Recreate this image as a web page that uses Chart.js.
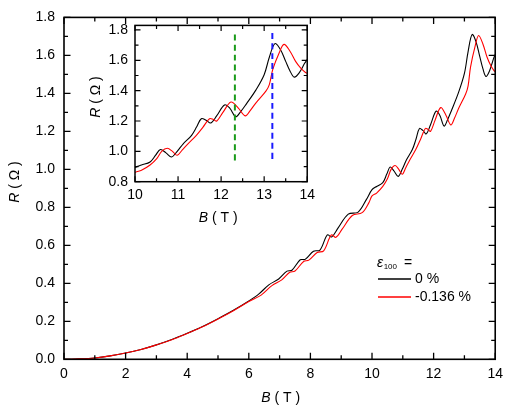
<!DOCTYPE html>
<html><head><meta charset="utf-8">
<script src="https://cdn.jsdelivr.net/npm/chart.js@4.4.1/dist/chart.umd.min.js"></script>
<style>
html,body{margin:0;padding:0;background:#fff;}
#wrap{position:relative;width:509px;height:409px;overflow:hidden;}
#main{position:absolute;left:0;top:0;}
#inset{position:absolute;left:80px;top:10px;}
</style></head><body>
<div id="wrap"><canvas id="main" width="509" height="409"></canvas><canvas id="inset" width="240" height="220"></canvas></div>
<script>
const FONT = '"Liberation Sans", Arial, Helvetica, sans-serif';
const seriesLabels = ['0 %', '-0.136 %'];
const legendTitle = 'ε';
const legendSub = '100';

// Black curve (eps = 0 %)
const B0 = [0,0.5,1,1.5,2,2.5,3,3.5,4,4.5,5,5.5,6,6.32,6.65,6.97,7.24,7.4,7.67,7.83,8.1,8.31,8.55,8.69,8.9,9.23,9.55,9.82,10,10.15,10.35,10.48,10.59,10.72,10.85,10.98,11.12,11.31,11.43,11.54,11.65,11.76,11.9,12.08,12.2,12.34,12.45,12.58,12.81,13,13.12,13.25,13.38,13.5,13.6,13.7,13.82,13.94,14];
const R0 = [0,0.002,0.007,0.018,0.033,0.052,0.076,0.104,0.137,0.173,0.214,0.258,0.307,0.343,0.392,0.423,0.464,0.469,0.524,0.526,0.569,0.575,0.655,0.644,0.692,0.764,0.775,0.842,0.893,0.91,0.93,0.975,1.012,0.99,0.963,1.0,1.05,1.104,1.16,1.215,1.205,1.187,1.235,1.306,1.285,1.228,1.26,1.31,1.405,1.505,1.62,1.71,1.67,1.593,1.53,1.489,1.52,1.58,1.605];
// Red curve (eps = -0.136 %)
const B1 = [0,0.5,1,1.5,2,2.5,3,3.5,4,4.5,5,5.5,6,6.4,6.75,7.07,7.33,7.5,7.78,7.95,8.22,8.43,8.68,8.83,9.03,9.36,9.68,9.9,10,10.15,10.35,10.5,10.62,10.75,10.87,10.98,11.1,11.23,11.42,11.58,11.73,11.82,11.9,12.05,12.23,12.4,12.56,12.68,12.81,13.04,13.12,13.2,13.35,13.46,13.6,13.73,13.86,13.96,14];
const R1 = [0,0.002,0.007,0.018,0.033,0.052,0.076,0.103,0.136,0.171,0.212,0.256,0.304,0.338,0.388,0.418,0.458,0.465,0.515,0.522,0.562,0.571,0.655,0.642,0.685,0.757,0.772,0.825,0.86,0.875,0.91,0.95,1.0,1.02,1.0,0.974,1.01,1.05,1.104,1.16,1.215,1.21,1.2,1.26,1.325,1.285,1.234,1.27,1.32,1.397,1.44,1.54,1.65,1.705,1.66,1.593,1.545,1.52,1.515];

// Dashed markers in the inset
const greenB = [12.32, 12.32];
const greenR = [0.94, 1.77];
const blueB = [13.19, 13.19];
const blueR = [0.95, 1.78];

// Tick labels
const mainXTicks = [0,2,4,6,8,10,12,14];
const mainYTicks = [0,0.2,0.4,0.6,0.8,1.0,1.2,1.4,1.6,1.8];
const insetXTicks = [10,11,12,13,14];
const insetYTicks = [0.8,1.0,1.2,1.4,1.6,1.8];

const pts = (xs, ys) => xs.map((x, i) => ({x: x, y: ys[i]}));

function drawMixed(ctx, parts, x, y) {
  let w = 0;
  parts.forEach(p => { ctx.font = p.font; p.w = ctx.measureText(p.text).width; w += p.w; });
  let cx = x - w / 2;
  ctx.textAlign = 'left';
  ctx.textBaseline = 'middle';
  parts.forEach(p => { ctx.font = p.font; ctx.fillText(p.text, cx, y); cx += p.w; });
}

function framePlugin(id, cfg) {
  return {
    id: id,
    afterDraw(chart) {
      const ctx = chart.ctx, a = chart.chartArea;
      const xs = chart.scales.x, ys = chart.scales.y;
      ctx.save();
      ctx.strokeStyle = '#000';
      ctx.lineWidth = cfg.lw;
      ctx.strokeRect(a.left, a.top, a.right - a.left, a.bottom - a.top);
      ctx.lineWidth = cfg.tlw;
      const isMajor = (v, list) => list.some(m => Math.abs(m - v) < 1e-6);
      ctx.beginPath();
      for (let v = xs.min; v <= xs.max + 1e-9; v += cfg.xMinor) {
        const L = isMajor(v, cfg.xMajor) ? cfg.major : cfg.minor;
        const px = xs.getPixelForValue(v);
        ctx.moveTo(px, a.bottom); ctx.lineTo(px, a.bottom - L);
        ctx.moveTo(px, a.top); ctx.lineTo(px, a.top + L);
      }
      for (let v = cfg.yStart; v <= ys.max + 1e-9; v += cfg.yMinor) {
        const L = isMajor(v, cfg.yMajor) ? cfg.major : cfg.minor;
        const py = ys.getPixelForValue(v);
        ctx.moveTo(a.left, py); ctx.lineTo(a.left + L, py);
        ctx.moveTo(a.right, py); ctx.lineTo(a.right - L, py);
      }
      ctx.stroke();
      ctx.fillStyle = '#000';
      const cxm = (a.left + a.right) / 2;
      drawMixed(ctx, [{text: 'B', font: 'italic 14px ' + FONT}, {text: ' ( T )', font: '14px ' + FONT}], cxm + cfg.xtDx, cfg.xtY);
      ctx.save();
      ctx.translate(cfg.ytX, cfg.ytY);
      ctx.rotate(-Math.PI / 2);
      drawMixed(ctx, [{text: 'R', font: 'italic 14px ' + FONT}, {text: ' ( Ω )', font: '14px ' + FONT}], 0, 0);
      ctx.restore();
      ctx.restore();
    }
  };
}

const legendPlugin = {
  id: 'eplegend',
  afterDraw(chart) {
    const ctx = chart.ctx;
    ctx.save();
    ctx.fillStyle = '#000';
    ctx.textBaseline = 'alphabetic';
    ctx.textAlign = 'left';
    ctx.font = 'italic 14px ' + FONT;
    ctx.fillText(legendTitle, 377, 267);
    let w = ctx.measureText(legendTitle).width;
    ctx.font = '8px ' + FONT;
    ctx.fillText(legendSub, 377 + w + 0.5, 268.5);
    ctx.font = '14px ' + FONT;
    ctx.fillText('=', 404, 267);
    const rows = [279, 297];
    chart.data.datasets.forEach((ds, i) => {
      ctx.strokeStyle = ds.borderColor;
      ctx.lineWidth = 1.3;
      ctx.beginPath();
      ctx.moveTo(378, rows[i]); ctx.lineTo(411, rows[i]);
      ctx.stroke();
      ctx.font = '14px ' + FONT;
      ctx.textBaseline = 'middle';
      ctx.fillText(ds.label, 415, rows[i]);
    });
    ctx.restore();
  }
};

function scaleOpts(min, max, ticks, fmt, fitFn, pad) {
  return {
    type: 'linear', min: min, max: max,
    afterBuildTicks: s => { s.ticks = ticks.map(v => ({value: v})); },
    afterFit: fitFn,
    grid: {display: false, drawTicks: false},
    border: {display: false},
    ticks: {font: {family: FONT, size: 14}, color: '#000', padding: pad, autoSkip: false, maxRotation: 0, callback: fmt}
  };
}

new Chart(document.getElementById('main'), {
  type: 'line',
  data: {
    datasets: [
      {label: seriesLabels[0], data: pts(B0, R0), borderColor: '#000000', borderWidth: 1.1, order: 2},
      {label: seriesLabels[1], data: pts(B1, R1), borderColor: '#ff0000', borderWidth: 1.1, order: 1}
    ]
  },
  options: {
    responsive: false, animation: false, devicePixelRatio: 1,
    layout: {padding: {left: 0, top: 10, right: 11.3, bottom: 0}},
    plugins: {legend: {display: false}, tooltip: {enabled: false}},
    elements: {point: {radius: 0}, line: {tension: 0.35}},
    scales: {
      x: scaleOpts(0, 14, mainXTicks, v => String(v), s => { s.height = 49.7; }, 6),
      y: scaleOpts(0, 1.8, mainYTicks, v => v.toFixed(1), s => { s.width = 64; }, 9)
    }
  },
  plugins: [framePlugin('mainframe', {lw: 1.6, tlw: 1.3, major: 6.5, minor: 4, xMinor: 1, xMajor: mainXTicks, yStart: 0, yMinor: 0.1, yMajor: mainYTicks, xtDx: 1, xtY: 398, ytX: 15, ytY: 182}), legendPlugin]
});

new Chart(document.getElementById('inset'), {
  type: 'line',
  data: {
    datasets: [
      {label: seriesLabels[0], data: pts(B0, R0), borderColor: '#000000', borderWidth: 1.1, order: 3},
      {label: seriesLabels[1], data: pts(B1, R1), borderColor: '#ff0000', borderWidth: 1.1, order: 2},
      {label: 'green', data: pts(greenB, greenR), borderColor: '#199a19', borderWidth: 2, borderDash: [6, 4], order: 1},
      {label: 'blue', data: pts(blueB, blueR), borderColor: '#1a1aff', borderWidth: 2, borderDash: [6, 4], order: 0}
    ]
  },
  options: {
    responsive: false, animation: false, devicePixelRatio: 1,
    layout: {padding: {left: 0, top: 13.5, right: 12, bottom: 0}},
    plugins: {legend: {display: false}, tooltip: {enabled: false}},
    elements: {point: {radius: 0}, line: {tension: 0.35}},
    scales: {
      x: scaleOpts(10, 14, insetXTicks, v => String(v), s => { s.height = 48.3; }, 5),
      y: scaleOpts(0.8, 1.83, insetYTicks, v => v.toFixed(1), s => { s.width = 55; }, 7)
    }
  },
  plugins: [framePlugin('insetframe', {lw: 1.5, tlw: 1.2, major: 5.5, minor: 3.5, xMinor: 0.5, xMajor: insetXTicks, yStart: 0.8, yMinor: 0.1, yMajor: insetYTicks, xtDx: -3, xtY: 208, ytX: 16, ytY: 87})]
});
</script>
</body></html>
